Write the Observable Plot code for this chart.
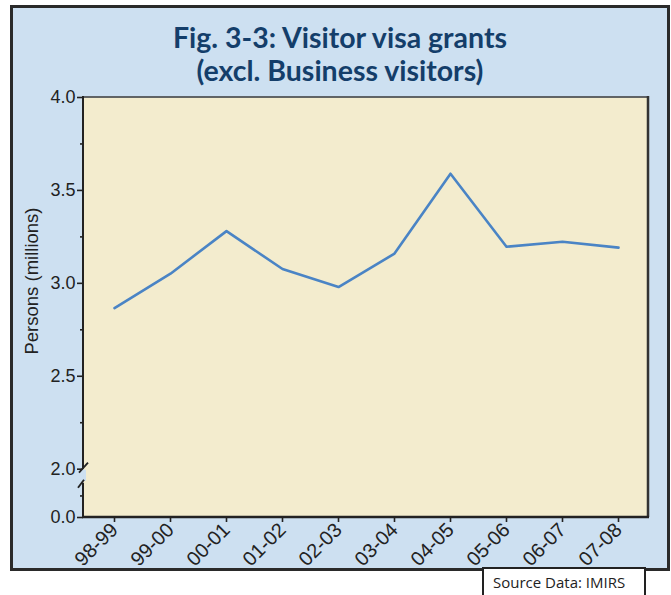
<!DOCTYPE html>
<html>
<head>
<meta charset="utf-8">
<script src="https://cdn.jsdelivr.net/npm/d3@7"></script>
<script src="https://cdn.jsdelivr.net/npm/@observablehq/plot@0.6"></script>
<style>
  html, body { margin: 0; padding: 0; background: #ffffff; }
  #wrap { position: relative; width: 671px; height: 595px; overflow: hidden; background: #ffffff; }
  #box { position: absolute; left: 10px; top: 5px; width: 660px; height: 566px; box-sizing: border-box;
         border: 3px solid #2a2a2a; background: #cde0f1; }
  #title { position: absolute; left: 10px; width: 660px; top: 21px; text-align: center;
           font-family: Lato, "Open Sans", sans-serif; font-weight: 700; font-size: 28.5px; line-height: 33px; color: #143e6a; }
  #ylabel { position: absolute; left: 32px; top: 281px; transform: translate(-50%, -50%) rotate(-90deg);
            font-family: "Liberation Sans", Arial, sans-serif; font-size: 18.5px; color: #222; white-space: nowrap; }
  #source { position: absolute; left: 482px; top: 567px; width: 164px; height: 40px; box-sizing: border-box;
            border: 2px solid #222; background: #fff; padding: 3px 0 0 9px;
            font-family: "Open Sans", sans-serif; font-size: 15px; color: #222; }
  #chart { position: absolute; left: 0; top: 0; }
</style>
</head>
<body>
<div id="wrap">
  <div id="box"></div>
  <div id="title">Fig. 3-3: Visitor visa grants<br>(excl. Business visitors)</div>
  <div id="ylabel">Persons (millions)</div>
  <div id="chart"></div>
  <div id="source">Source Data: IMIRS</div>
</div>
<script>
// ---- data ----
const periods = ["98-99", "99-00", "00-01", "01-02", "02-03", "03-04", "04-05", "05-06", "06-07", "07-08"];
const visitors = [2.867, 3.052, 3.281, 3.077, 2.980, 3.160, 3.590, 3.197, 3.224, 3.192];
const yMajorTicks = [2.0, 2.5, 3.0, 3.5, 4.0];
const yMinorTicks = [2.25, 2.75, 3.25, 3.75];
// broken axis: below the break, "0.0" is drawn at this display position
const zeroDisplay = 1.74;
const zeroLabel = "0.0";
const belowBreakMinor = [1.856];
const breakTop = 2.0;
const breakBottom = 1.935;

const rows = periods.map((p, i) => ({period: p, value: visitors[i]}));

const W = 671, H = 595;
const mL = 83, mR = 23, mT = 97, mB = 78;

function decorations(index, {x, y}, values, dims) {
  const g = d3.create("svg:g");
  const x0 = dims.marginLeft, x1 = dims.width - dims.marginRight;
  const yTop = y(4.0), yBot = y(zeroDisplay);
  const yb1 = y(breakTop), yb2 = y(breakBottom);
  // gap in the plot background at the break
  g.append("rect").attr("x", x0 - 2).attr("y", yb1 + 1).attr("width", 5).attr("height", yb2 - yb1 - 1).attr("fill", "#cde0f1");
  // top border
  g.append("line").attr("x1", x0).attr("x2", x1 + 1).attr("y1", yTop).attr("y2", yTop).attr("stroke", "#3a3a3a").attr("stroke-width", 1.5);
  // right border
  g.append("line").attr("x1", x1).attr("x2", x1).attr("y1", yTop - 1).attr("y2", yBot).attr("stroke", "#333").attr("stroke-width", 2.5);
  // bottom border
  g.append("line").attr("x1", x0 - 1).attr("x2", x1 + 1).attr("y1", yBot).attr("y2", yBot).attr("stroke", "#222").attr("stroke-width", 2.5);
  // left axis in two pieces
  g.append("line").attr("x1", x0).attr("x2", x0).attr("y1", yTop - 1).attr("y2", yb1).attr("stroke", "#222").attr("stroke-width", 2);
  g.append("line").attr("x1", x0).attr("x2", x0).attr("y1", yb2 + 2).attr("y2", yBot).attr("stroke", "#222").attr("stroke-width", 2);
  // break slashes
  g.append("line").attr("x1", x0 - 4).attr("y1", yb1 + 4).attr("x2", x0 + 5).attr("y2", yb1 - 6).attr("stroke", "#222").attr("stroke-width", 1.8);
  g.append("line").attr("x1", x0 - 5).attr("y1", yb2 + 7).attr("x2", x0 + 1).attr("y2", yb2 - 1).attr("stroke", "#222").attr("stroke-width", 1.8);
  return g.node();
}

const fmt = d => d === zeroDisplay ? zeroLabel : d3.format(".1f")(d);

const chart = Plot.plot({
  width: W,
  height: H,
  marginLeft: mL,
  marginRight: mR,
  marginTop: mT,
  marginBottom: mB,
  style: {background: "transparent", fontFamily: "'Liberation Sans', Arial, sans-serif", fontSize: "16px", color: "#222", overflow: "visible"},
  x: {type: "point", domain: periods, padding: 0.5},
  y: {domain: [zeroDisplay, 4.0]},
  marks: [
    Plot.frame({fill: "#f3ecce", stroke: null}),
    Plot.axisY({ticks: [zeroDisplay, ...yMajorTicks], tickFormat: fmt, tickSize: 6, tickPadding: 2, label: null, stroke: "#222", strokeWidth: 1.6, fill: "#222", fontSize: 18}),
    Plot.axisY({ticks: [...belowBreakMinor, ...yMinorTicks], tickFormat: () => "", tickSize: 3, label: null, stroke: "#222", strokeWidth: 1.6}),
    Plot.axisX({tickSize: 5, tickRotate: -45, tickPadding: 4, label: null, stroke: "#222", strokeWidth: 1.6, fill: "#222", fontSize: 20}),
    Plot.line(rows, {x: "period", y: "value", stroke: "#4a84c5", strokeWidth: 2.6}),
    decorations
  ]
});
document.getElementById("chart").appendChild(chart);
</script>
</body>
</html>
